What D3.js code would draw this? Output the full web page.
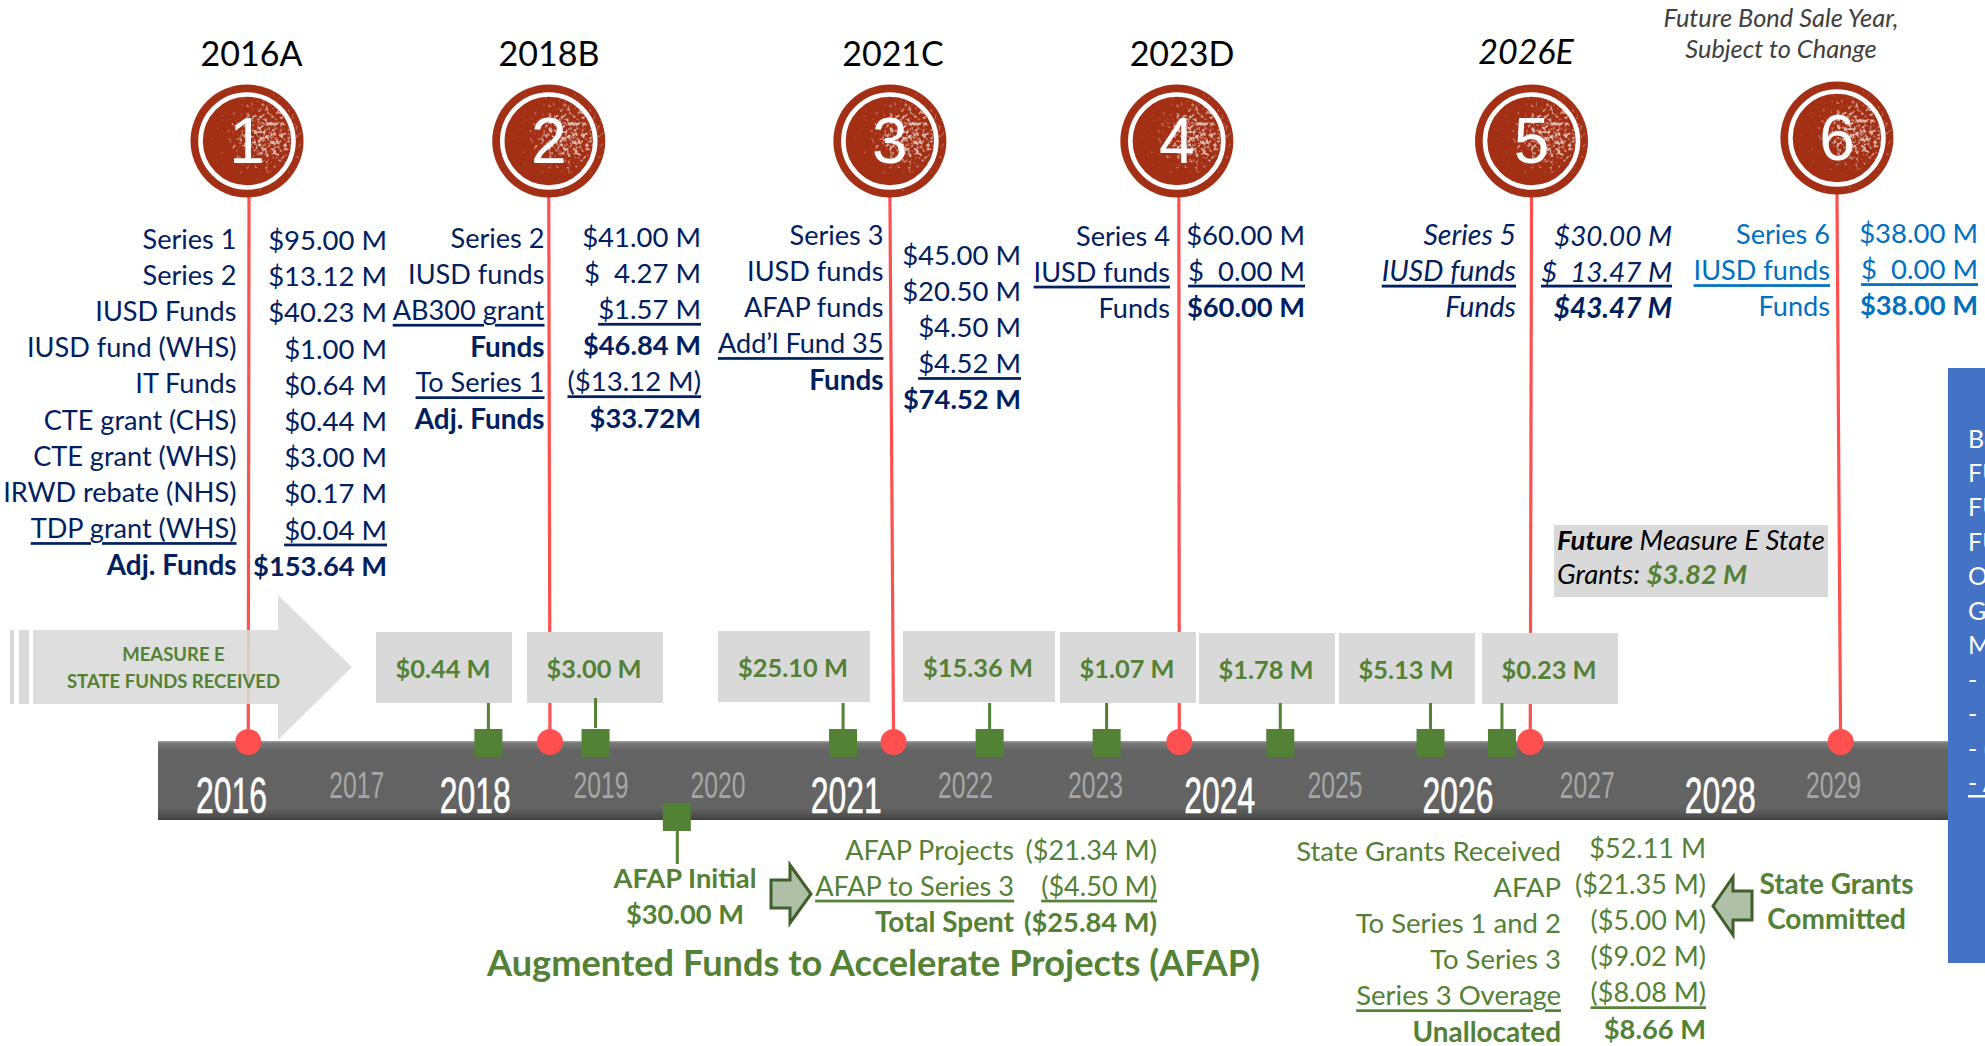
<!DOCTYPE html>
<html><head><meta charset="utf-8">
<script src="https://cdn.jsdelivr.net/npm/d3@7/dist/d3.min.js"></script>
<style>
html,body{margin:0;padding:0;background:#fff;overflow:hidden}
svg{display:block}
text{font-family:Lato,"Noto Sans",sans-serif;white-space:pre}
</style></head><body>
<svg id="c" width="1985" height="1046"></svg>
<script>
// ---------- DATA ----------
const years=[2016,2017,2018,2019,2020,2021,2022,2023,2024,2025,2026,2027,2028,2029];
const majorYears=[2016,2018,2021,2024,2026,2028];
const bondNames=["2016A","2018B","2021C","2023D","2026E"];
const bondNumbers=[1,2,3,4,5,6];
const bondDates=[2016.14,2018.59,2021.38,2023.70,2026.55,2029.07];
const bondCircleDates=[2016.13,2018.58,2021.35,2023.68,2026.56,2029.04];
const grantAmounts=["$0.44 M","$3.00 M","$25.10 M","$15.36 M","$1.07 M","$1.78 M","$5.13 M","$0.23 M"];
const grantDates=[2018.09,2018.96,2020.97,2022.16,2023.11,2024.52,2025.74,2026.32];
const afapDate=2019.62;

const s1Labels=["Series 1","Series 2","IUSD Funds","IUSD fund (WHS)","IT Funds","CTE grant (CHS)","CTE grant (WHS)","IRWD rebate (NHS)","TDP grant (WHS)","Adj. Funds"];
const s1Values=["$95.00 M","$13.12 M","$40.23 M","$1.00 M","$0.64 M","$0.44 M","$3.00 M","$0.17 M","$0.04 M","$153.64 M"];
const s2Labels=["Series 2","IUSD funds","AB300 grant","Funds","To Series 1","Adj. Funds"];
const s2Values=["$41.00 M","$  4.27 M","$1.57 M","$46.84 M","($13.12 M)","$33.72M"];
const s3Labels=["Series 3","IUSD funds","AFAP funds","Add’l Fund 35","Funds"];
const s3Values=["$45.00 M","$20.50 M","$4.50 M","$4.52 M","$74.52 M"];
const s4Labels=["Series 4","IUSD funds","Funds"];
const s4Values=["$60.00 M","$  0.00 M","$60.00 M"];
const s5Labels=["Series 5","IUSD funds","Funds"];
const s5Values=["$30.00 M","$  13.47 M","$43.47 M"];
const s6Labels=["Series 6","IUSD funds","Funds"];
const s6Values=["$38.00 M","$  0.00 M","$38.00 M"];
const afapLabels=["AFAP Projects","AFAP to Series 3","Total Spent"];
const afapValues=["($21.34 M)","($4.50 M)","($25.84 M)"];
const stateLabels=["State Grants Received","AFAP","To Series 1 and 2","To Series 3","Series 3 Overage","Unallocated"];
const stateValues=["$52.11 M","($21.35 M)","($5.00 M)","($9.02 M)","($8.08 M)","$8.66 M"];
const panelLines=["Bo","FU","FU","FU","O","G","M","- I","- I","- (","- A"];

// ---------- LAYOUT ----------
const NAVY="#002060",BLUE="#0070c0",GREEN="#538135",RED="#ff5050",GREY="#d9d9d9";
const svg=d3.select("#c");
const defs=svg.append("defs");

const x=d3.scaleLinear().domain([2016,2029]).range([231,1832]);
const rowStep=36.2;
const row=d3.scaleLinear().domain([0,1]).range([0,rowStep]);
const FS=27.1;

// gradients / filter
const bg=defs.append("linearGradient").attr("id","bar").attr("x1",0).attr("x2",0).attr("y1",0).attr("y2",1);
[[0,"#a8a8a8"],[.025,"#7a7a7a"],[.12,"#646464"],[.85,"#636363"],[.96,"#4c4c4c"],[1,"#3e3e3e"]]
  .forEach(([o,c])=>bg.append("stop").attr("offset",o).attr("stop-color",c));
const sg=defs.append("radialGradient").attr("id","spk").attr("cx",.66).attr("cy",.46).attr("r",.62);
[[0,.72],[.32,.62],[.6,.42],[1,.34]].forEach(([o,a])=>sg.append("stop").attr("offset",o).attr("stop-color","#fff").attr("stop-opacity",a));
const f=defs.append("filter").attr("id","speckle").attr("x",0).attr("y",0).attr("width",1).attr("height",1)
  .attr("color-interpolation-filters","sRGB");
f.append("feTurbulence").attr("type","fractalNoise").attr("baseFrequency",.27).attr("numOctaves",2).attr("seed",7).attr("result","n");
f.append("feColorMatrix").attr("in","n").attr("type","matrix")
  .attr("values","0 0 0 0 1 0 0 0 0 1 0 0 0 0 1 1 0 0 0 0").attr("result","w");
f.append("feComposite").attr("in","w").attr("in2","SourceGraphic").attr("operator","arithmetic")
  .attr("k1",0).attr("k2",5).attr("k3",5).attr("k4",-5.6).attr("result","t");
f.append("feComposite").attr("in","t").attr("in2","SourceAlpha").attr("operator","in");

const txt=(g,px,py,s,o={})=>{
  const t=g.append("text").attr("x",px).attr("y",py).text(s)
    .attr("dominant-baseline","central")
    .attr("text-anchor",o.anchor||"end")
    .attr("font-size",o.size||FS)
    .attr("fill",o.fill||NAVY);
  if(o.bold)t.attr("font-weight",700);
  if(o.italic)t.attr("font-style","italic");
  if(o.under)t.attr("text-decoration","underline");
  return t;
};

// red bond lines
const gLines=svg.append("g");
bondDates.forEach((d,i)=>{
  gLines.append("line").attr("x1",x(bondCircleDates[i])+(i==0?2:i==3?2:0)).attr("x2",x(d))
    .attr("y1",190).attr("y2",742).attr("stroke",RED).attr("stroke-width",3.2);
});

// big arrow
const gA=svg.append("g").attr("fill",GREY);
const stripes=[[10,14],[19,29]];
stripes.forEach(([a,b])=>gA.append("rect").attr("x",a).attr("y",630).attr("width",b-a).attr("height",74));
gA.append("path").attr("opacity",.88).attr("d",d3.line()([[33,630],[278,630],[278,595],[352,667],[278,740],[278,704],[33,704]])+"Z");
txt(svg,173.5,653.5,"MEASURE E",{anchor:"middle",size:18.5,bold:true,fill:GREEN});
txt(svg,173.5,680.5,"STATE FUNDS RECEIVED",{anchor:"middle",size:18.5,bold:true,fill:GREEN});

// grant boxes
const boxes=[[376,512,632,703],[527,663,632,703],[718,870,631,702],[903,1055,631,702],[1060,1196,632,703],[1199,1335,633,704],[1339,1475,633,704],[1482,1618,633,704]];
const gB=svg.append("g");
boxes.forEach(([a,b,t,u],i)=>{
  gB.append("rect").attr("x",a).attr("y",t).attr("width",b-a).attr("height",u-t).attr("fill",GREY);
  txt(gB,(a+b)/2-1,(t+u)/2,grantAmounts[i],{anchor:"middle",size:25.4,bold:true,fill:GREEN});
});

// timeline bar with axis
svg.append("rect").attr("x",158).attr("y",741).attr("width",1800).attr("height",79).attr("fill","url(#bar)");
const yearNudge={2016:0,2017:2,2018:-2.5,2019:0,2020:-6,2021:-1,2022:-5,2023:2,2024:3,2025:-5,2026:-5,2027:1,2028:11,2029:1};
const axis=d3.axisBottom(x).tickValues(years).tickFormat(d3.format("d")).tickSize(0);
const gAxis=svg.append("g").attr("transform","translate(0,741)").call(axis);
gAxis.select(".domain").remove();
gAxis.selectAll(".tick").each(function(y){
  const maj=majorYears.includes(y);
  d3.select(this).select("text")
    .attr("x",yearNudge[y]).attr("y",maj?54.5:44).attr("dy",null)
    .attr("dominant-baseline","central").attr("text-anchor","middle")
    .style("font-family",'"Liberation Sans Narrow","Liberation Sans",sans-serif')
    .attr("font-size",maj?50:37.5).attr("fill",maj?"#fff":"#a6a6a6")
    .attr("stroke",maj?"#fff":"none").attr("stroke-width",maj?.6:0)
    .attr("textLength",maj?71:55).attr("lengthAdjust","spacingAndGlyphs");
});

// stems and squares
const sq=28;
const gG=svg.append("g").attr("fill",GREEN);
grantDates.forEach((d,i)=>{
  const cx=x(d);
  gG.append("rect").attr("x",cx-1.5).attr("y",i==1?698:703).attr("width",3).attr("height",30);
  gG.append("rect").attr("x",cx-sq/2).attr("y",729).attr("width",sq).attr("height",28);
});
gG.append("rect").attr("x",x(afapDate)-sq/2).attr("y",803).attr("width",sq).attr("height",28);
gG.append("rect").attr("x",x(afapDate)-1).attr("y",830).attr("width",3).attr("height",34);

// bond base dots
svg.append("g").selectAll("circle").data(bondDates).join("circle")
  .attr("cx",d=>x(d)).attr("cy",742).attr("r",13).attr("fill",RED);

// bond medallions
const cyCircle=[141,141,141,141,141,138];
bondCircleDates.forEach((d,i)=>{
  const g=svg.append("g").attr("transform",`translate(${x(d)},${cyCircle[i]})`);
  g.append("circle").attr("r",56.5).attr("fill","#a33015");
  g.append("circle").attr("r",57).attr("fill","url(#spk)").attr("filter","url(#speckle)");
  g.append("circle").attr("r",46.5).attr("fill","none").attr("stroke","#fff").attr("stroke-width",4.6);
  g.append("text").attr("text-anchor","middle").attr("y",22).attr("font-size",64)
    .style("font-family",'"Liberation Sans",sans-serif').attr("fill","#fff").text(bondNumbers[i]);
});

// titles
const titleXY=[[251.5,52.5],[549,52.5],[893,52.5],[1182,52.5]];
bondNames.slice(0,4).forEach((n,i)=>txt(svg,titleXY[i][0],titleXY[i][1],n,{anchor:"middle",size:34,fill:"#000"}));
txt(svg,1526,50.5,bondNames[4],{anchor:"middle",size:34,fill:"#000",italic:true});
txt(svg,1781,16.5,"Future Bond Sale Year,",{anchor:"middle",size:25.4,fill:"#404040",italic:true});
txt(svg,1781,48,"Subject to Change",{anchor:"middle",size:25.4,fill:"#404040",italic:true});

// series tables
const tables=[
 {L:s1Labels,V:s1Values,lx:236.5,vx:387,ly:238,vy:239.5,uL:[8],uV:[8],bL:[9],bV:[9]},
 {L:s2Labels,V:s2Values,lx:544.5,vx:701,ly:237,vy:236,uL:[2,4],uV:[2,4],bL:[3,5],bV:[3,5]},
 {L:s3Labels,V:s3Values,lx:883.5,vx:1021,ly:234,vy:254,uL:[3],uV:[3],bL:[4],bV:[4]},
 {L:s4Labels,V:s4Values,lx:1170,vx:1305,ly:235,vy:234,uL:[1],uV:[1],bL:[],bV:[2]},
 {L:s5Labels,V:s5Values,lx:1516,vx:1672,ly:233.5,vy:234.5,uL:[1],uV:[1],bL:[],bV:[2],italic:true},
 {L:s6Labels,V:s6Values,lx:1830,vx:1978,ly:233.5,vy:232.5,uL:[1],uV:[1],bL:[],bV:[2],fill:BLUE},
 {L:afapLabels,V:afapValues,lx:1014,vx:1157,ly:849,vy:849,uL:[1],uV:[1],bL:[2],bV:[2],fill:GREEN,vsize:27.1},
 {L:stateLabels,V:stateValues,lx:1561,vx:1706,ly:850,vy:847,uL:[4],uV:[4],bL:[5],bV:[5],fill:GREEN,lsize:27.5,vsize:27}
];
const gT=svg.append("g");
tables.forEach(t=>{
  t.L.forEach((s,i)=>{
    const b=t.bL.includes(i);
    txt(gT,t.lx,t.ly+row(i),s,{fill:t.fill||NAVY,italic:t.italic,under:t.uL.includes(i),bold:b,
      size:t.italic?28.5:b?27.9:(t.lsize||FS)});
  });
  t.V.forEach((s,i)=>{
    const b=t.bV.includes(i);
    txt(gT,t.vx,t.vy+row(i),s,{fill:t.fill||NAVY,italic:t.italic,under:t.uV.includes(i),bold:b,
      size:t.italic?27.9:b?27.3:(t.vsize||27.5)});
  });
});

// future grants note
svg.append("rect").attr("x",1554).attr("y",525).attr("width",274).attr("height",72).attr("fill",GREY);
const n1=txt(svg,1557,539,"",{anchor:"start",size:27.5,fill:"#000",italic:true});
n1.append("tspan").attr("font-weight",700).text("Future");n1.append("tspan").text(" Measure E State");
const n2=txt(svg,1557,573,"",{anchor:"start",size:27.5,fill:"#000",italic:true});
n2.append("tspan").text("Grants: ");n2.append("tspan").attr("font-weight",700).attr("fill",GREEN).text("$3.82 M");

// AFAP labels
txt(svg,685,877,"AFAP Initial",{anchor:"middle",size:27.3,bold:true,fill:GREEN});
txt(svg,685,913,"$30.00 M",{anchor:"middle",size:27.3,bold:true,fill:GREEN});
txt(svg,873.5,962,"Augmented Funds to Accelerate Projects (AFAP)",{anchor:"middle",size:36.2,bold:true,fill:GREEN});
txt(svg,1836.5,883,"State Grants",{anchor:"middle",size:28,bold:true,fill:GREEN});
txt(svg,1836.5,918,"Committed",{anchor:"middle",size:28,bold:true,fill:GREEN});

// small block arrows
const arrow=pts=>svg.append("path").attr("d",d3.line()(pts)+"Z").attr("fill","#b0bfa8").attr("stroke","#3f6129").attr("stroke-width",3);
arrow([[771,880],[790,880],[790,865],[811,894],[790,923],[790,908],[771,908]]);
arrow([[1752,891],[1733,891],[1733,877],[1713,906],[1733,935],[1733,920],[1752,920]]);

// blue panel, cut by the right edge of the picture as in the reference
svg.append("rect").attr("x",1948).attr("y",368).attr("width",37).attr("height",595).attr("fill","#4472c4");
const panelY=d3.scaleLinear().domain([0,10]).range([437.5,782]);
panelLines.forEach((s,i)=>txt(svg,1968,panelY(i),s,{anchor:"start",size:25,fill:"#fff",under:i==10}));
</script></body></html>
